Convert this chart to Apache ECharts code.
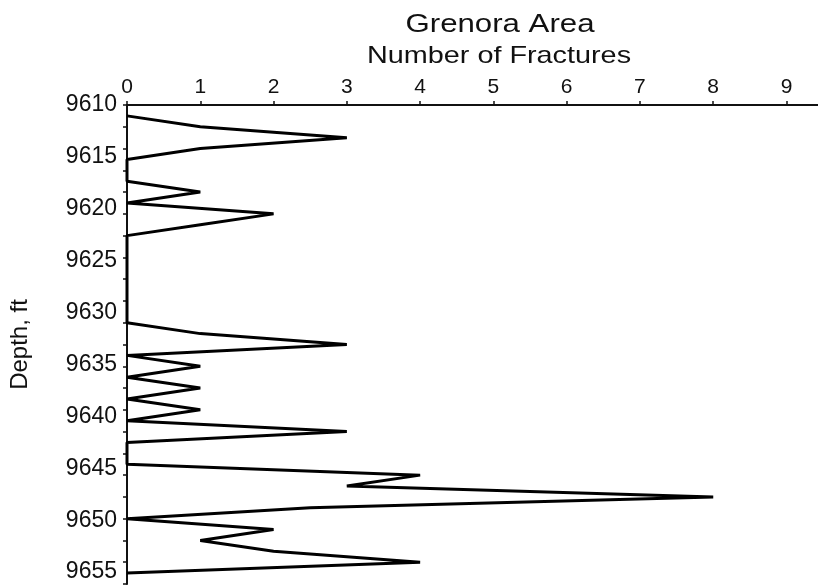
<!DOCTYPE html>
<html>
<head>
<meta charset="utf-8">
<title>Grenora Area - Number of Fractures</title>
<script src="https://cdn.jsdelivr.net/npm/echarts@6/dist/echarts.min.js"></script>
<style>
    html, body { margin: 0; padding: 0; background: #fff; }
    #fracChart { width: 818px; height: 587px; }
</style>
</head>
<body>
<div id="fracChart"></div>
<script>
    // depth (ft) of each reading, and number of fractures at that depth
    const depths = [
        9611, 9612, 9613, 9614, 9615, 9616, 9617, 9618, 9619, 9620,
        9621, 9622, 9623, 9624, 9625, 9626, 9627, 9628, 9629, 9630,
        9631, 9632, 9633, 9634, 9635, 9636, 9637, 9638, 9639, 9640,
        9641, 9642, 9643, 9644, 9645, 9646, 9647, 9648, 9649, 9650,
        9651, 9652, 9653
    ];
    const fractures = [
        0, 1, 3, 1, 0, 0, 0, 1, 0, 2,
        1, 0, 0, 0, 0, 0, 0, 0, 0, 0,
        1, 3, 0, 1, 0, 1, 0, 1, 0, 3,
        0, 0, 0, 4, 3, 8, 2.5, 0, 2, 1,
        2, 4, 0
    ];
    // labels printed along the depth axis
    const depthLabels = [9610, 9615, 9620, 9625, 9630, 9635, 9640, 9645, 9650, 9655];
    const fractureTicks = [0, 1, 2, 3, 4, 5, 6, 7, 8, 9];

    const font = "'Liberation Sans', Arial, sans-serif";
    const chart = echarts.init(document.getElementById("fracChart"));

    const option = {
        animation: false,
        backgroundColor: "#fff",
        graphic: [
            {
                type: "text",
                x: 500, y: 25,
                scaleX: 1.2,
                style: { text: "Grenora Area", font: "26px " + font, fill: "#111", align: "center", verticalAlign: "middle" }
            },
            {
                type: "text",
                x: 499, y: 56,
                scaleX: 1.2,
                style: { text: "Number of Fractures", font: "24px " + font, fill: "#111", align: "center", verticalAlign: "middle" }
            }
        ],
        grid: { left: 123, top: 105, right: 0, bottom: 3, containLabel: false },
        xAxis: {
            type: "value",
            position: "top",
            min: fractureTicks[0],
            max: 9.43,
            interval: 1,
            splitLine: { show: false },
            axisLine: { lineStyle: { color: "#111", width: 2 } },
            axisTick: { length: 4, lineStyle: { color: "#111", width: 1.5 } },
            axisLabel: {
                showMaxLabel: false,
                margin: 7,
                color: "#111",
                fontSize: 21,
                fontFamily: font,
                formatter: v => fractureTicks.indexOf(v) >= 0 ? String(v) : ""
            }
        },
        yAxis: [
            {
                // depth scale of the readings, ticks every 2 ft
                type: "value",
                position: "left",
                inverse: true,
                min: 9610,
                max: 9654,
                interval: 2,
                splitLine: { show: false },
                axisLine: { lineStyle: { color: "#111", width: 2 } },
                axisTick: { length: 4, lineStyle: { color: "#111", width: 1.5 } },
                axisLabel: { show: false }
            },
            {
                // printed depth labels
                type: "value",
                position: "left",
                inverse: true,
                min: depthLabels[0],
                max: 9656.15,
                interval: 5,
                splitLine: { show: false },
                axisLine: { show: false },
                axisTick: { show: false },
                axisLabel: {
                    showMaxLabel: false,
                    margin: 10,
                    color: "#111",
                    fontSize: 23,
                    fontFamily: font,
                    formatter: v => depthLabels.indexOf(v) >= 0 ? String(v) : ""
                },
                name: "Depth, ft",
                nameLocation: "middle",
                nameRotate: 90,
                nameGap: 95,
                nameTextStyle: { color: "#111", fontSize: 24, fontFamily: font }
            }
        ],
        series: [
            {
                type: "line",
                yAxisIndex: 0,
                data: depths.map((d, i) => [fractures[i], d]),
                symbol: "none",
                lineStyle: { color: "#000", width: 3, join: "bevel" },
                z: 5
            }
        ]
    };
    chart.setOption(option);
</script>
</body>
</html>
